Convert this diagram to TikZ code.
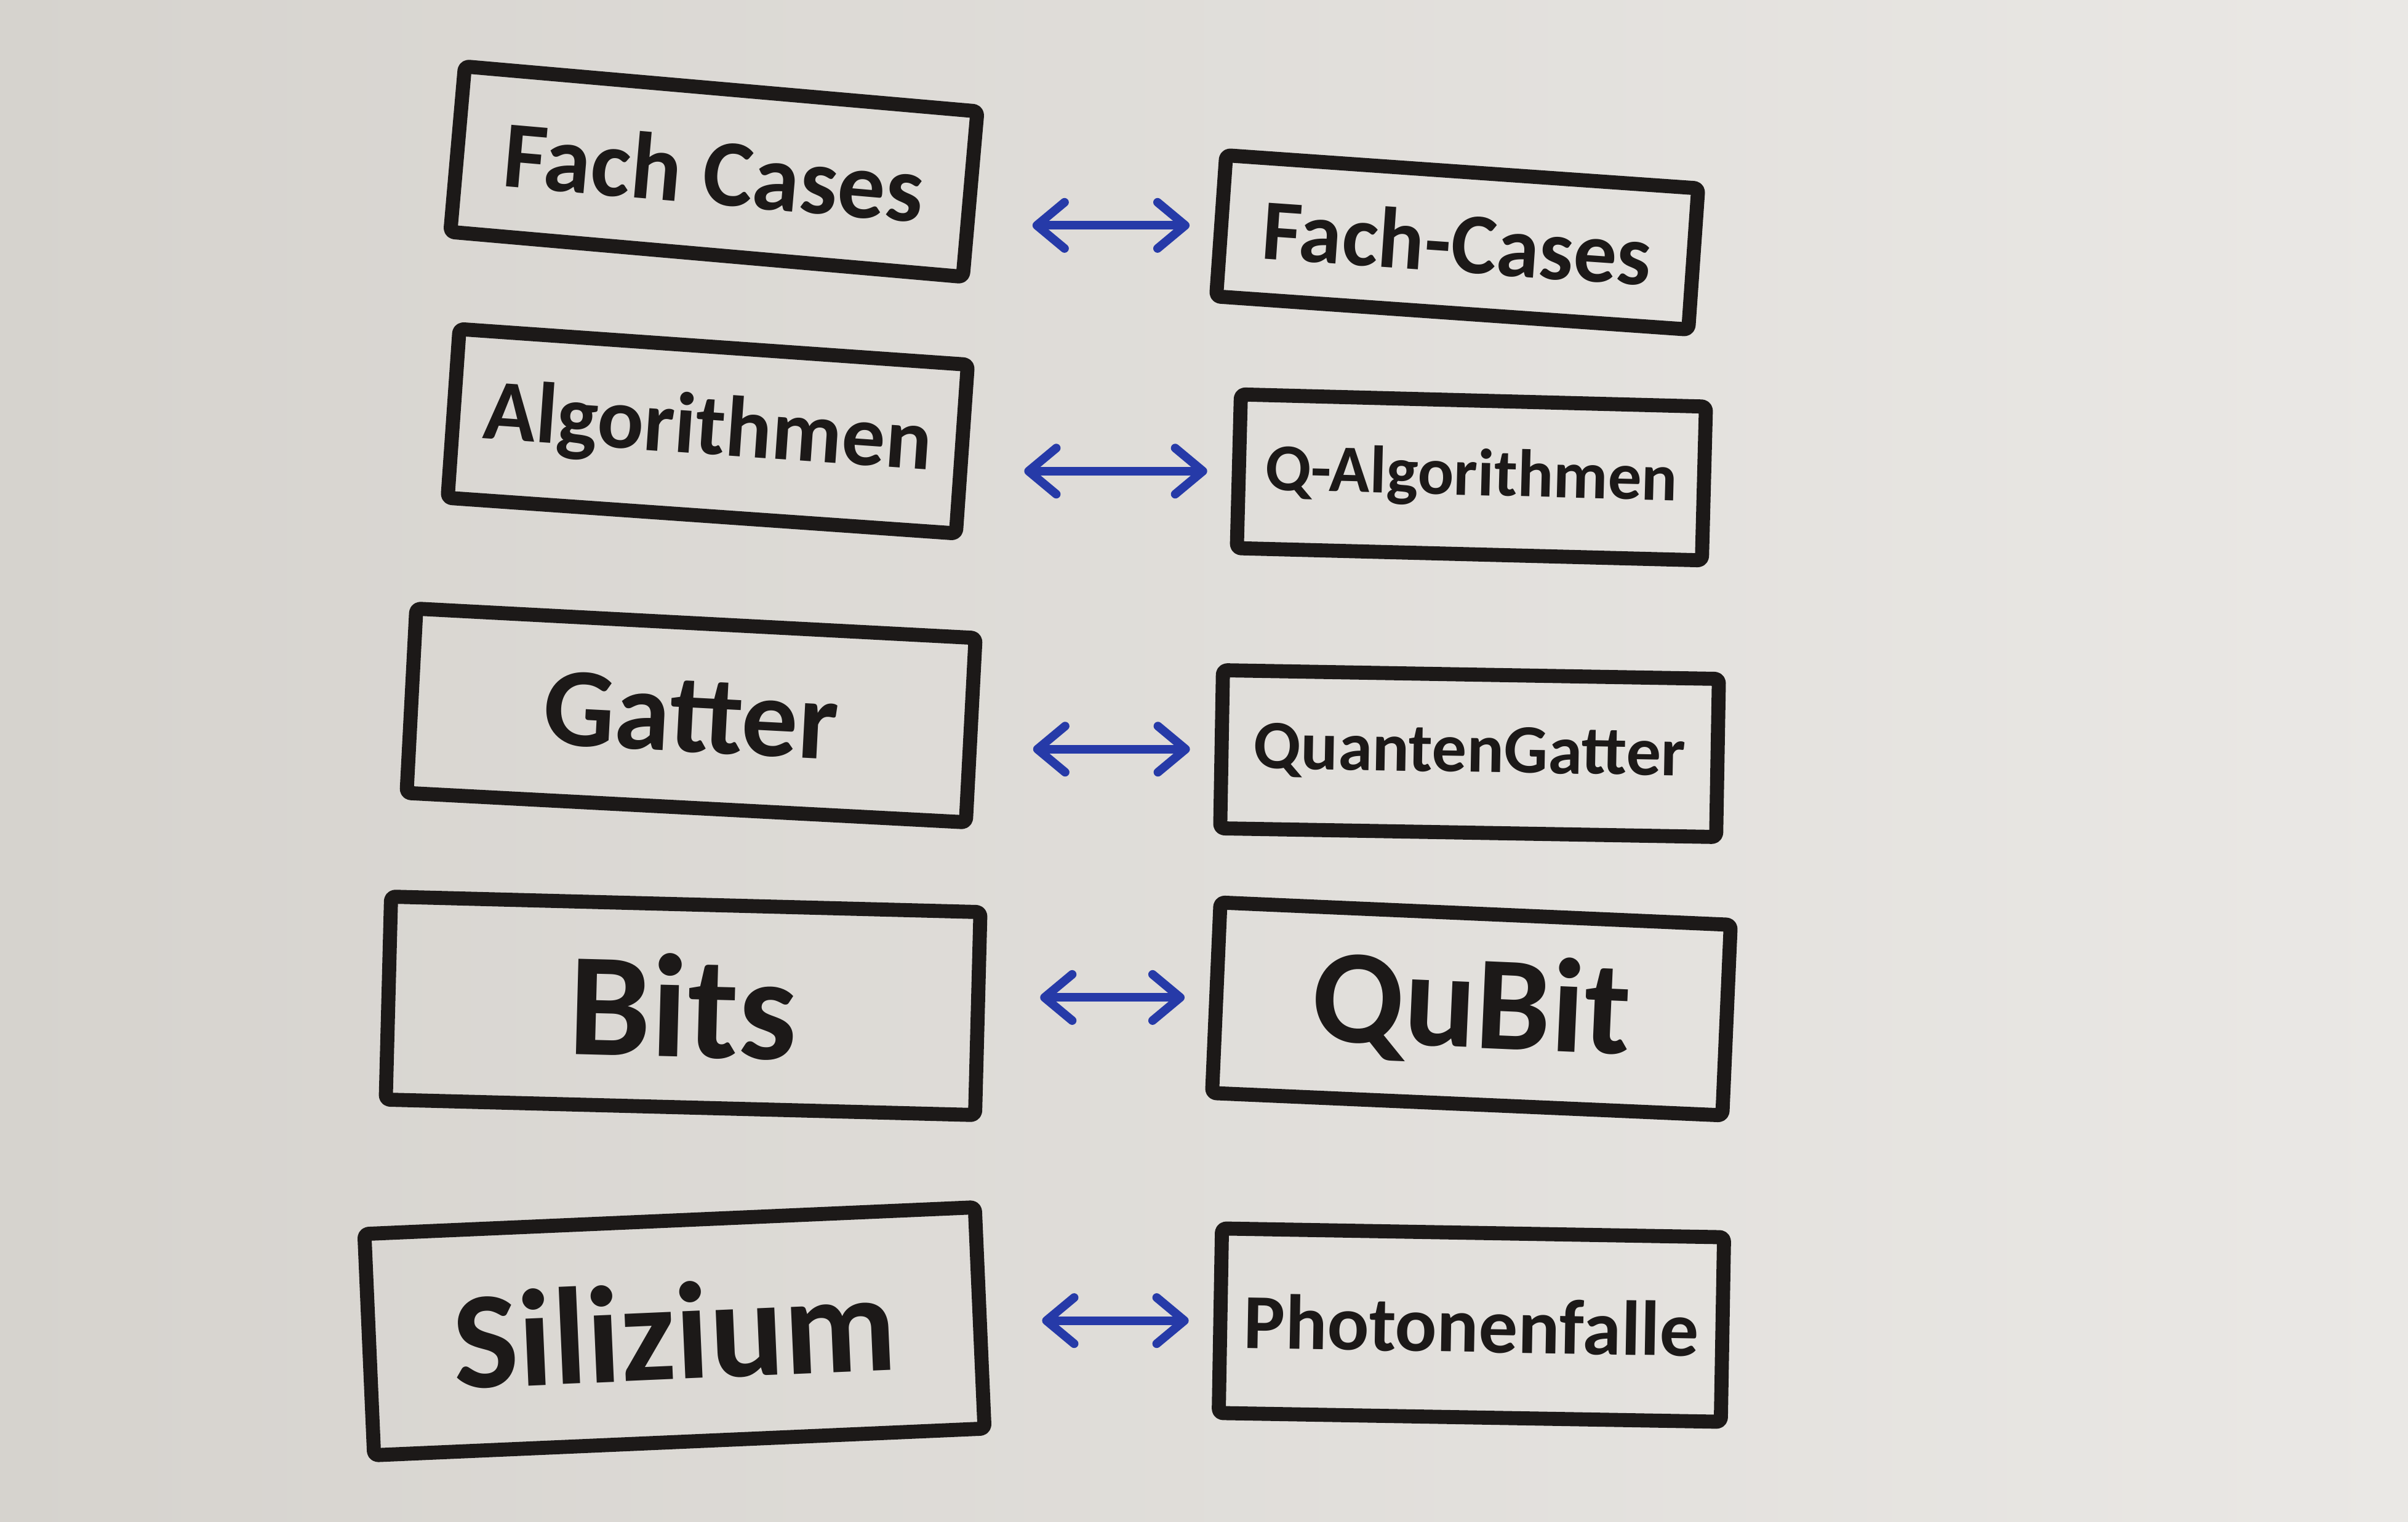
\documentclass[tikz,border=0pt]{standalone}
\usepackage{fontspec}
\setmainfont{Carlito}
\usetikzlibrary{arrows.meta}
\definecolor{ink}{RGB}{28,25,24}
\definecolor{pen}{RGB}{38,58,168}
\definecolor{papl}{RGB}{234,232,229}
\definecolor{papd}{RGB}{214,211,206}
\tikzset{box/.style={draw=ink,line width=6.5pt,line join=round,rounded corners=2pt,inner sep=0pt,text=ink,font=\bfseries},
barb/.tip={Straight Barb[length=.45cm,width=.75cm,line cap=round,line join=round]},
conn/.style={pen,line width=4pt,line cap=round,barb-barb,shorten <=.9cm,shorten >=.4cm}}
\begin{document}
\begin{tikzpicture}
\fill[left color=papd,right color=papl](0,0)rectangle(39.13,24.73);
% left column: classical, right column: quantum
\foreach \n/\x/\y/\r/\w/\h/\f/\t in {l1/11.60/21.94/-5/8.36/2.7/44/Fach Cases,l2/11.50/17.72/-4/8.28/2.75/40/Algorithmen,l3/11.23/13.10/-3/9.1/3.0/52/Gatter,l4/11.10/8.38/-1.5/9.58/3.3/68/Bits,l5/10.96/3.09/2.5/9.93/3.6/64/Silizium,r1/23.68/20.79/-4/7.69/2.3/40/Fach-Cases,r2/23.91/16.97/-1.5/7.56/2.5/31/Q-Algorithmen,r3/23.88/12.48/-1/8.06/2.57/32/QuantenGatter,r4/23.91/8.33/-2.5/8.3/3.1/62/QuBit,r5/23.91/3.19/-1/8.16/3.0/36/Photonenfalle}
{\node[box,rotate=\r,minimum width=\w cm,minimum height=\h cm](\n)at(\x,\y){\fontsize{\f pt}{\f pt}\selectfont\t};}
\foreach \a/\b in {l1/r1,l2/r2,l3/r3,l4/r4,l5/r5}{\draw[conn](\a.east|-\b.west)--(\b.west);}
\end{tikzpicture}
\end{document}
